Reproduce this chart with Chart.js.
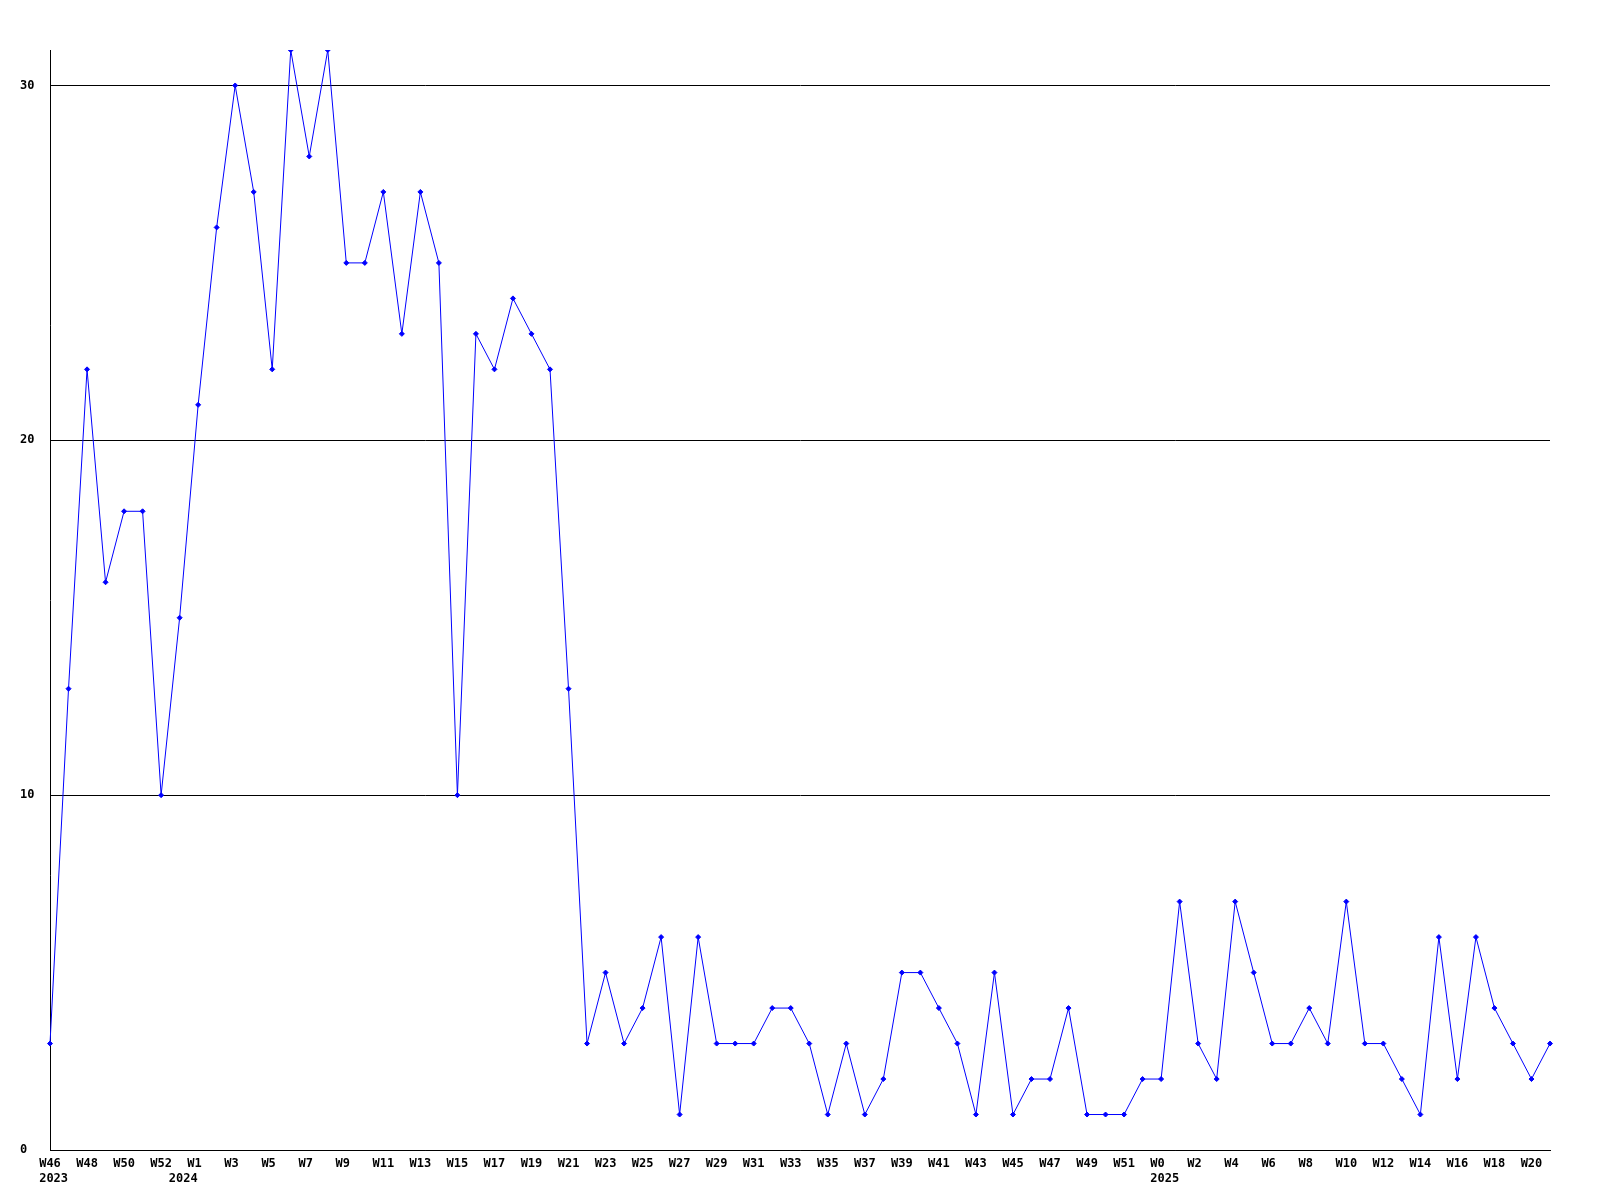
<!DOCTYPE html>
<html>
<head>
<meta charset="utf-8">
<script src="https://cdn.jsdelivr.net/npm/chart.js@4/dist/chart.umd.min.js"></script>
<style>
  html, body { margin: 0; padding: 0; background: #ffffff; }
  #c { display: block; }
</style>
</head>
<body>
<canvas id="c" width="1600" height="1200"></canvas>
<script>
// Week categories (year, week)
const catYears = [
  '2023','2023','2023','2023','2023','2023','2023',
  '2024','2024','2024','2024','2024','2024','2024','2024','2024','2024',
  '2024','2024','2024','2024','2024','2024','2024','2024','2024','2024',
  '2024','2024','2024','2024','2024','2024','2024','2024','2024','2024',
  '2024','2024','2024','2024','2024','2024','2024','2024','2024','2024',
  '2024','2024','2024','2024','2024','2024','2024','2024','2024','2024',
  '2024','2024','2024',
  '2025','2025','2025','2025','2025','2025','2025','2025','2025','2025',
  '2025','2025','2025','2025','2025','2025','2025','2025','2025','2025',
  '2025','2025'
];
const catWeeks = [
  'W46','W47','W48','W49','W50','W51','W52',
  'W0','W1','W2','W3','W4','W5','W6','W7','W8','W9',
  'W10','W11','W12','W13','W14','W15','W16','W17','W18','W19',
  'W20','W21','W22','W23','W24','W25','W26','W27','W28','W29',
  'W30','W31','W32','W33','W34','W35','W36','W37','W38','W39',
  'W40','W41','W42','W43','W44','W45','W46','W47','W48','W49',
  'W50','W51','W52',
  'W0','W1','W2','W3','W4','W5','W6','W7','W8','W9',
  'W10','W11','W12','W13','W14','W15','W16','W17','W18','W19',
  'W20','W21'
];
const values = [
  3,13,22,16,18,18,10,
  15,21,26,30,27,22,31,28,31,25,
  25,27,23,27,25,10,23,22,24,23,
  22,13,3,5,3,4,6,1,6,3,
  3,3,4,4,3,1,3,1,2,5,
  5,4,3,1,5,1,2,2,4,1,
  1,1,2,
  2,7,3,2,7,5,3,3,4,3,
  7,3,3,2,1,6,2,6,4,3,
  2,3
];
const yTicks = [0, 10, 20, 30];
const yMax = 31;

const labels = catWeeks.map((w, i) => catYears[i] + ' ' + w);

const FONT = { family: '"DejaVu Sans Mono", monospace', size: 12, weight: 'bold', lineHeight: 1.25 };

new Chart(document.getElementById('c'), {
  type: 'line',
  data: {
    labels: labels,
    datasets: [{
      data: values,
      borderColor: '#0000ff',
      backgroundColor: '#0000ff',
      borderWidth: 1,
      tension: 0,
      fill: false,
      pointStyle: 'rectRot',
      pointRadius: 2.5,
      pointBorderWidth: 1,
      pointBorderColor: '#0000ff',
      pointBackgroundColor: '#0000ff'
    }]
  },
  options: {
    responsive: false,
    animation: false,
    devicePixelRatio: 1,
    layout: { padding: { left: 20, right: 50, top: 50, bottom: 0 } },
    plugins: { legend: { display: false }, tooltip: { enabled: false }, title: { display: false } },
    scales: {
      x: {
        type: 'category',
        offset: false,
        grid: { display: false, drawTicks: false },
        border: { display: true, color: '#000000', width: 1 },
        afterFit: (s) => { s.height = 50; },
        ticks: {
          autoSkip: false,
          maxRotation: 0,
          minRotation: 0,
          padding: 6,
          color: '#000000',
          font: FONT,
          callback: function (value, index) {
            const week = (index % 2 === 0) ? catWeeks[index].padEnd(3, ' ') : '';
            const newYear = index === 0 || catYears[index] !== catYears[index - 1];
            if (newYear) return [week, ' ' + catYears[index]];
            return week;
          }
        }
      },
      y: {
        min: 0,
        max: yMax,
        grid: { display: true, color: '#000000', lineWidth: 1, drawTicks: false },
        border: { display: true, color: '#000000', width: 1 },
        afterFit: (s) => { s.width = 30; },
        afterBuildTicks: (s) => { s.ticks = yTicks.map(v => ({ value: v })); },
        ticks: {
          crossAlign: 'far',
          padding: 10,
          color: '#000000',
          font: FONT
        }
      }
    }
  }
});
</script>
</body>
</html>
